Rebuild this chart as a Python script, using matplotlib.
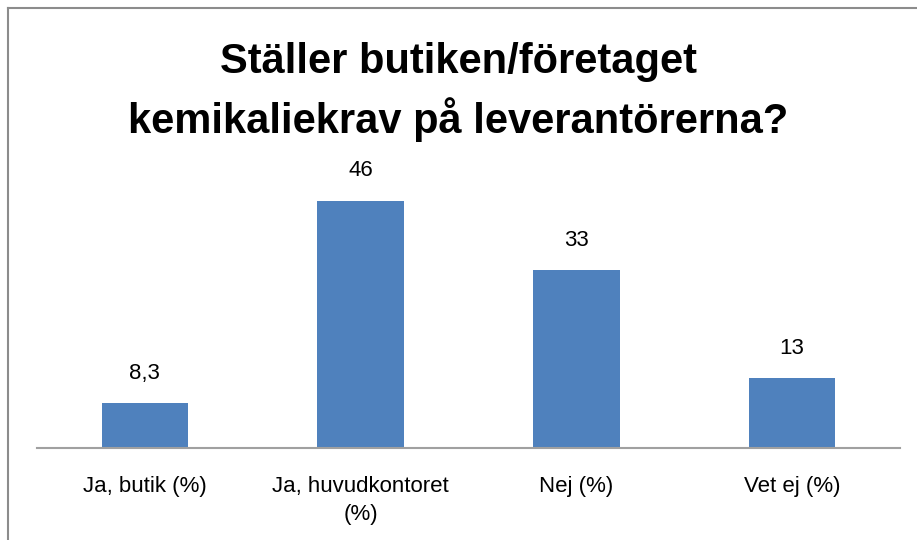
import matplotlib
matplotlib.use("Agg")
import matplotlib.pyplot as plt
from matplotlib.lines import Line2D

plt.rcParams['font.family'] = ['Liberation Sans Narrow', 'Liberation Sans', 'DejaVu Sans']

categories = ["Ja, butik (%)", "Ja, huvudkontoret\n(%)", "Nej (%)", "Vet ej (%)"]
values = [8.3, 46, 33, 13]
value_labels = ["8,3", "46", "33", "13"]
title = "Ställer butiken/företaget\nkemikaliekrav på leverantörerna?"

W, H = 917, 540
fig = plt.figure(figsize=(W / 100, H / 100), dpi=100)
ax = fig.add_axes([37 / W, (H - 448) / H, (900 - 37) / W, 269 / H])

x = range(len(values))
ax.bar(x, values, width=0.4, color="#4F81BD")
ax.set_xlim(-0.5, len(values) - 0.5)
ax.set_ylim(0, 50)
for xi, v, lab in zip(x, values, value_labels):
    ax.annotate(lab, (xi, v), xytext=(0, 14), textcoords="offset points",
                ha="center", va="bottom", fontsize=16, color="black")

ax.set_xticks(list(x))
ax.set_xticklabels(categories, fontsize=16, linespacing=1.45)
ax.tick_params(axis="x", length=0, pad=20)
ax.set_yticks([])
for s in ["top", "left", "right"]:
    ax.spines[s].set_visible(False)
ax.spines["bottom"].set_color("#A0A0A0")
ax.spines["bottom"].set_linewidth(1.5)

fig.text(0.5, (H - 92) / H, title, ha="center", va="center", fontsize=30,
         fontweight="bold", linespacing=1.45)

# figure border (top and left)
fig.add_artist(Line2D([7.5 / W, 1.0], [(H - 8) / H, (H - 8) / H], color="#8C8C8C", lw=1.5))
fig.add_artist(Line2D([7.5 / W, 7.5 / W], [0, (H - 8) / H], color="#8C8C8C", lw=1.5))

fig.savefig("out.png", dpi=100)
